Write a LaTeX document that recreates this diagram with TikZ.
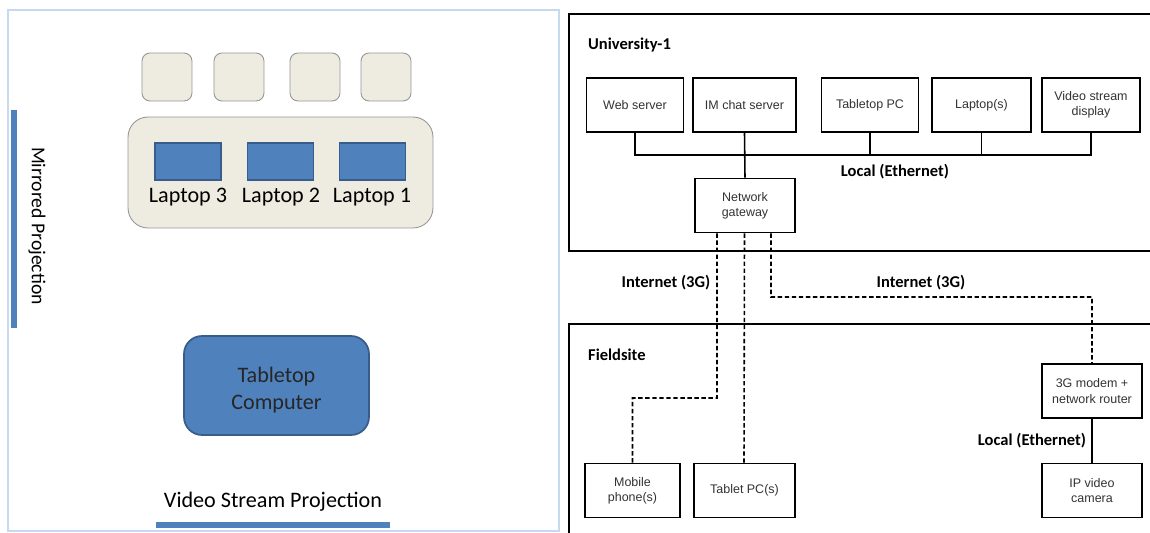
\documentclass[tikz,border=0pt]{standalone}
\usepackage{fontspec}
\setmainfont{Liberation Sans}
\newfontfamily\calfont{Carlito}
\usetikzlibrary{positioning}
\definecolor{offblue}{RGB}{79,129,189}
\definecolor{deepblue}{RGB}{56,93,138}
\definecolor{paper}{RGB}{238,236,225}
\definecolor{paperline}{RGB}{150,150,150}
\definecolor{frameblue}{RGB}{198,217,241}
\tikzset{
  seat/.style={draw=paperline, fill=paper, rounded corners=0.16cm, line width=0.5pt,
    minimum width=1cm, minimum height=0.96cm},
  laptopbox/.style={draw=deepblue, fill=offblue, line width=1pt,
    minimum width=1.32cm, minimum height=0.74cm},
  devbox/.style={draw=black, line width=1.1pt, align=center, text=black!80,
    font=\fontsize{7.1}{8.6}\selectfont,
    minimum width=1.94cm, minimum height=1.08cm, inner sep=1pt},
  sitebox/.style={draw=black, line width=1.4pt},
  lanlink/.style={draw=black, line width=0.9pt},
  wanlink/.style={draw=black, line width=0.9pt, dash pattern=on 2.5pt off 1.5pt},
  boldlbl/.style={font=\calfont\bfseries\fontsize{9.4}{10}\selectfont},
  roomlbl/.style={font=\calfont\fontsize{12.6}{15.5}\selectfont, align=center}
}
\begin{document}
\begin{tikzpicture}[x=0.02cm, y=-0.02cm]
\clip (0,0) rectangle (1150,533);
\fill[white] (0,0) rectangle (1150,533);
% room layout
\draw[frameblue, line width=1.2pt] (8,10) rectangle (559,531);
\node[seat] (seat1) at (167,77) {};
\node[seat] (seat2) at (239,77) {};
\node[seat] (seat3) at (315,77) {};
\node[seat] (seat4) at (386,77) {};
\node[draw=paperline, fill=paper, rounded corners=0.4cm, line width=0.5pt,
  minimum width=6.1cm, minimum height=2.22cm] (desk) at (280.5,172.5) {};
\node[laptopbox] (lap3) at (188,161.5) {};
\node[laptopbox] (lap2) at (280.5,161.5) {};
\node[laptopbox] (lap1) at (372.5,161.5) {};
\node[roomlbl] (lap3txt) at (188,197) {Laptop 3};
\node[roomlbl] (lap2txt) at (281,197) {Laptop 2};
\node[roomlbl] (lap1txt) at (372,197) {Laptop 1};
\node[draw=deepblue, fill=offblue, rounded corners=0.36cm, line width=1pt,
  minimum width=3.7cm, minimum height=1.98cm, roomlbl, text=black!85] (tabletop) at (276.5,385.5) {};
\node[roomlbl, text=black!85] (tabletoptxt) at (276.5,390) {Tabletop\\Computer};
\draw[offblue, line width=0.12cm] (14,110) -- (14,328);
\node[roomlbl, font=\calfont\fontsize{11.2}{12}\selectfont, rotate=-90] (mirror) at (37,226) {Mirrored Projection};
\node[roomlbl] (stream) at (273,502) {Video Stream Projection};
\draw[offblue, line width=0.14cm] (156,525) -- (390,525);
% network
\draw[sitebox] (569,14) rectangle (1160,251);
\draw[sitebox] (569,324) rectangle (1160,545);
\node[boldlbl, anchor=west] (uni) at (582,45) {University-1};
\node[boldlbl, anchor=west] (field) at (582,355) {Fieldsite};
\node[devbox] (web) at (635,105) {Web server};
\node[devbox, minimum width=2.06cm] (chat) at (744.5,105) {IM chat server};
\node[devbox] (tpc) at (870,105) {Tabletop PC};
\node[devbox, minimum width=1.98cm] (laps) at (981.5,105) {Laptop(s)};
\node[devbox, minimum width=1.96cm] (vsd) at (1091,105) {Video stream\\display};
\node[devbox, minimum width=2cm] (gw) at (745,205.5) {Network\\gateway};
\node[devbox, minimum width=1.9cm] (mob) at (632.5,490.5) {Mobile\\phone(s)};
\node[devbox, minimum width=2.02cm] (tab) at (744.5,490.5) {Tablet PC(s)};
\node[devbox, minimum width=2cm] (modem) at (1092,391) {3G modem +\\network router};
\node[devbox, minimum width=2cm] (cam) at (1092,490.5) {IP video\\camera};
\coordinate (bus) at (0,155);
\draw[lanlink] (web.south) -- (web.south |- bus) -| (vsd.south);
\draw[lanlink] (chat.south) -- (gw.north);
\draw[lanlink] (tpc.south) -- (tpc.south |- bus);
\draw[lanlink] (laps.south) -- (laps.south |- bus);
\node[boldlbl] (lanup) at (895,172) {Local (Ethernet)};
\coordinate (mobbend) at (717,398);
\coordinate (rtbend) at (771,297);
\draw[wanlink] ([xshift=-0.56cm]gw.south) -- (mobbend) -| (mob.north);
\draw[wanlink] ([xshift=-0.01cm]gw.south) -- ([xshift=-0.01cm]tab.north);
\draw[wanlink] ([xshift=0.52cm]gw.south) -- (rtbend) -| (modem.north);
\node[boldlbl] (wan1) at (666,283) {Internet (3G)};
\node[boldlbl] (wan2) at (921,283) {Internet (3G)};
\draw[lanlink] (modem.south) -- (cam.north);
\node[boldlbl] (landown) at (1032,441) {Local (Ethernet)};
\end{tikzpicture}
\end{document}
